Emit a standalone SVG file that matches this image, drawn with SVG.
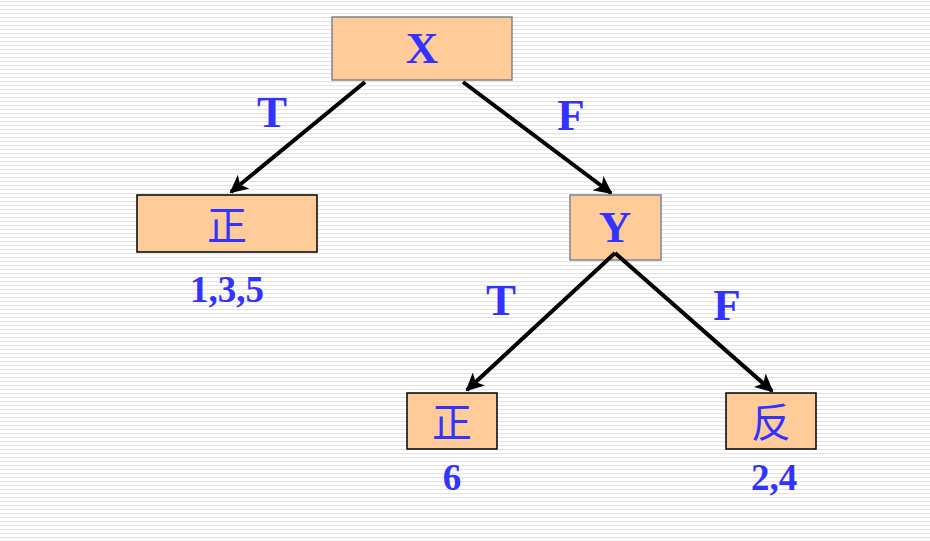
<svg xmlns="http://www.w3.org/2000/svg" width="930" height="541" viewBox="0 0 930 541">
<defs>
<pattern id="stripes" x="0" y="0" width="8" height="4" patternUnits="userSpaceOnUse">
<rect x="0" y="0" width="8" height="4" fill="#ffffff"/>
<rect x="0" y="1" width="8" height="1.2" fill="#e4e4e4"/>
</pattern>
<marker id="ah" viewBox="0 0 10 10" refX="9" refY="5" markerWidth="4.5" markerHeight="4.5" orient="auto" markerUnits="strokeWidth">
<path d="M0,0 L10,5 L0,10 L2.5,5 z" fill="#000"/>
</marker>
<style>
.box{fill:#ffcc99;stroke-width:1.5}
.g{stroke:#7a8590}
.k{stroke:#000}
.lbl{font-family:"Liberation Serif","Times New Roman",serif;font-weight:bold;fill:#3333ff;text-anchor:middle}
.cjk{font-family:"Noto Sans CJK SC","Noto Sans CJK JP",serif;font-weight:normal;fill:#3333ff;text-anchor:middle;font-size:40px}
.edge{stroke:#000;stroke-width:4;fill:none;marker-end:url(#ah)}
</style>
</defs>
<rect width="930" height="541" fill="url(#stripes)"/>
<g id="nodeX"><rect class="box g" x="332" y="17" width="180" height="63"/><text class="lbl" x="422" y="63" font-size="45">X</text></g>
<g id="nodeL"><rect class="box k" x="137" y="195" width="180" height="57"/><text class="cjk" x="227" y="240">正</text></g>
<g id="nodeY"><rect class="box g" x="570" y="195" width="91" height="65"/><text class="lbl" x="615" y="242" font-size="45">Y</text></g>
<g id="nodeBL"><rect class="box k" x="407" y="393" width="90" height="56"/><text class="cjk" x="452" y="437">正</text></g>
<g id="nodeBR"><rect class="box k" x="726" y="393" width="90" height="56"/><text class="cjk" x="771" y="437">反</text></g>
<g id="connectors">
<path class="edge" d="M365,82 L231,192"/>
<path class="edge" d="M463,82 L611,193"/>
<path class="edge" d="M615,253 L772,391"/>
<path class="edge" d="M615,253 L467,390"/>
</g>
<g id="labels">
<text class="lbl" x="272" y="127" font-size="45">T</text>
<text class="lbl" x="571" y="130" font-size="45">F</text>
<text class="lbl" x="501" y="315" font-size="45">T</text>
<text class="lbl" x="727" y="320" font-size="45">F</text>
<text class="lbl" x="227" y="302" font-size="37">1,3,5</text>
<text class="lbl" x="452" y="490" font-size="37">6</text>
<text class="lbl" x="774" y="490" font-size="37">2,4</text>
</g>
</svg>
